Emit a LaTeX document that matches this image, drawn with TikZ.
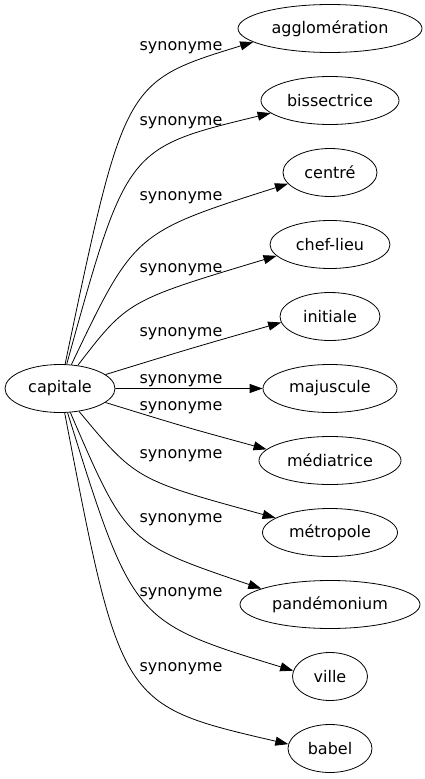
\documentclass[tikz,border=0pt]{standalone}
\usepackage{fontspec}
\setmainfont{DejaVu Sans}
\usetikzlibrary{positioning,shapes.geometric,arrows.meta}

\begin{document}
\begin{tikzpicture}[
    x=1pt, y=-1pt,
    font=\fontsize{16}{19}\selectfont,
    word/.style={ellipse, draw, line width=0.8pt, inner sep=2pt, minimum height=48pt},
    syn/.style={line width=0.8pt, -{Triangle[length=13pt, width=9pt]}},
    rel/.style={anchor=base, inner sep=0pt},
    node distance=23.2pt
  ]
\useasboundingbox (0,0) rectangle (425,779);

% Source word
\node[word, minimum width=110pt] (cap) at (60,388.5) {capitale};

% Synonyms in one column
\node[word, minimum width=184pt] (agg) at (330,28.5) {agglomération};
\node[word, minimum width=138pt, below=of agg] (bis) {bissectrice};
\node[word, minimum width=94pt, below=of bis] (cen) {centré};
\node[word, minimum width=120pt, below=of cen] (chef) {chef-lieu};
\node[word, minimum width=100pt, below=of chef] (ini) {initiale};
\node[word, minimum width=134pt, below=of ini] (maj) {majuscule};
\node[word, minimum width=142pt, below=of maj] (med) {médiatrice};
\node[word, minimum width=135pt, below=of med] (met) {métropole};
\node[word, minimum width=180pt, below=of met] (pan) {pandémonium};
\node[word, minimum width=75pt, below=of pan] (vil) {ville};
\node[word, minimum width=84pt, below=of vil] (bab) {babel};

% Edges and their labels: target/anchor/bend x/bend y/label baseline
\foreach \t/\a/\cx/\cy/\ly in {agg/190/124.3/81.6/50, bis/192/126.5/148/125,
    cen/195/134.4/232.6/200, chef/192/127.6/300.6/272.3, ini/187/192/348/336.3,
    maj/180/160/388.5/383.3, med/170/185/427/410.7, met/165/136/479.8/458.8,
    pan/167/126.6/543/522.6, vil/171/132.9/621.7/596.6, bab/174/120.7/705.3/671.6} {
    \draw[syn] (cap) .. controls (\cx,\cy) .. (\t.\a);
    \node[rel] (s-\t) at (181,\ly) {synonyme};
}

\end{tikzpicture}
\end{document}
